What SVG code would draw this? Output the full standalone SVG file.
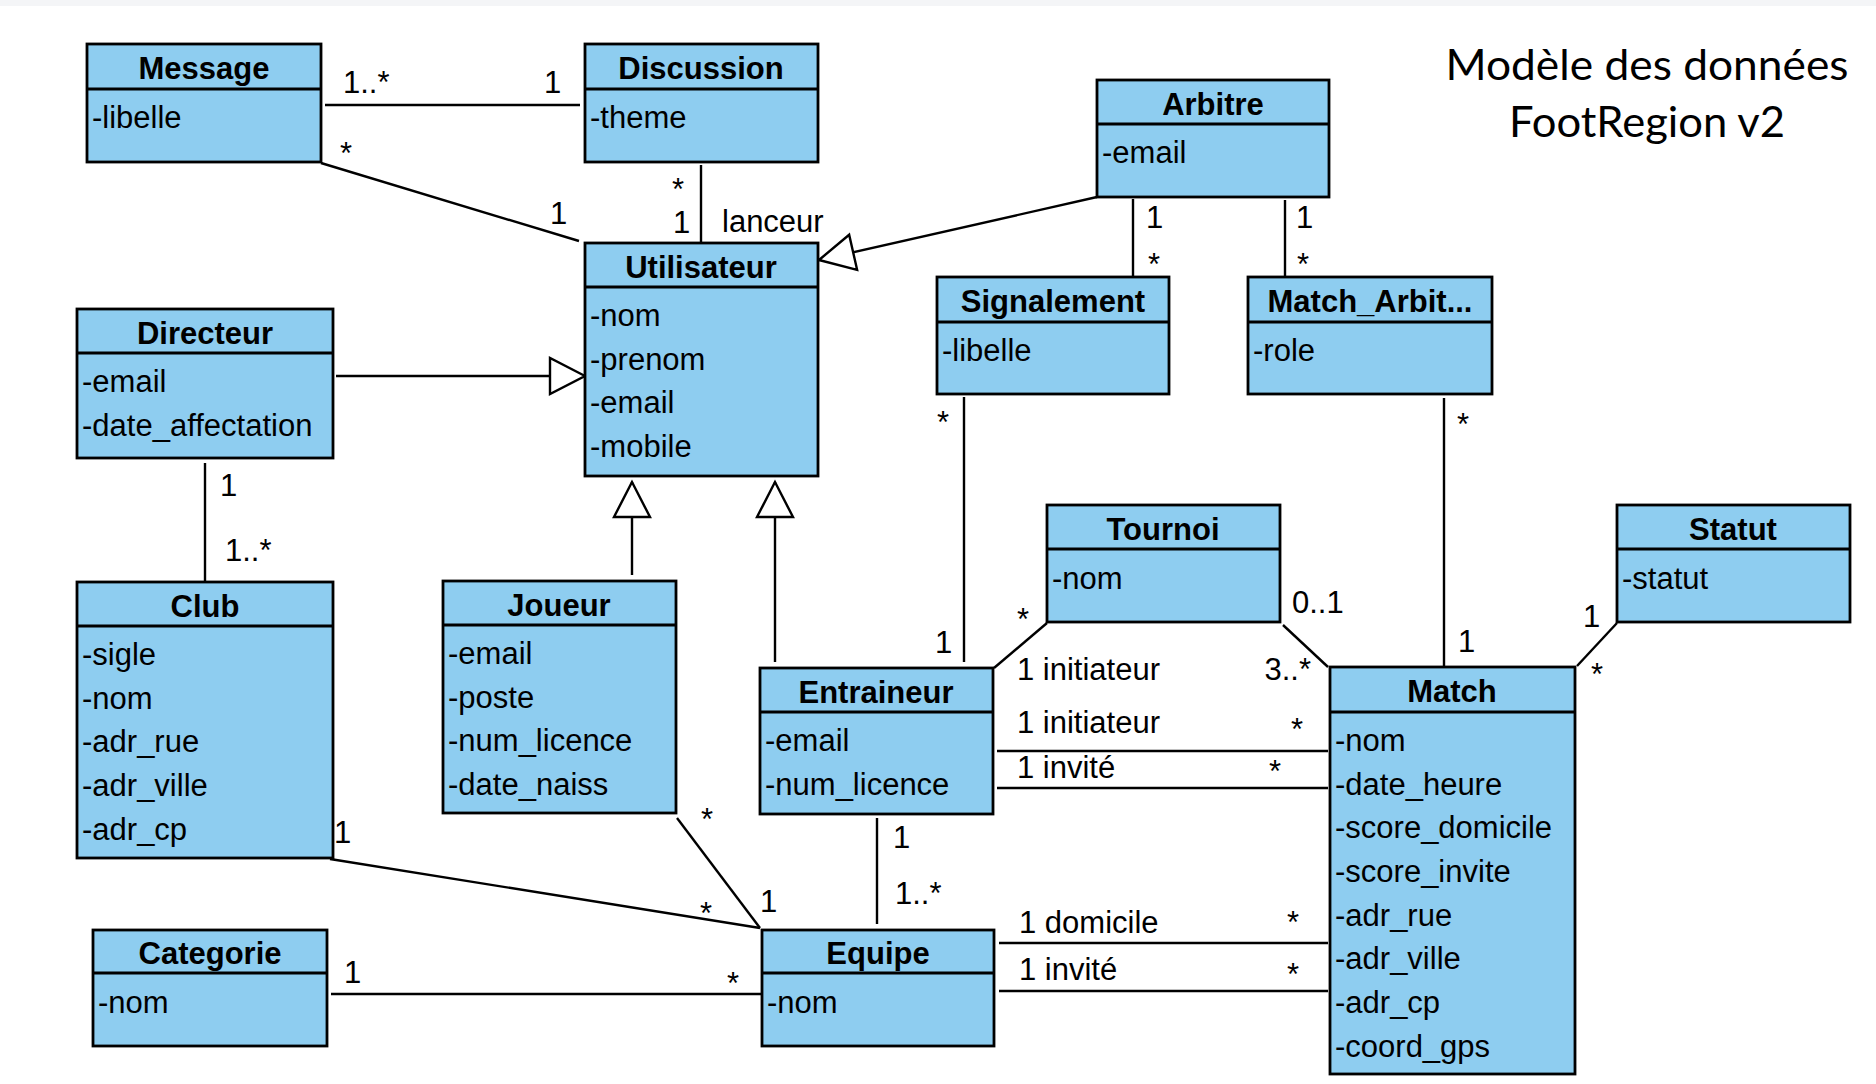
<svg xmlns="http://www.w3.org/2000/svg" width="1876" height="1084" viewBox="0 0 1876 1084">
<style>
.box{fill:#8ecdf0;stroke:#000;stroke-width:2.8}
.div{stroke:#000;stroke-width:2.8}
.t{font-family:"Liberation Sans",Arial,sans-serif;font-size:31px;font-weight:bold;text-anchor:middle;fill:#000}
.a{font-family:"Liberation Sans",Arial,sans-serif;font-size:31px;fill:#000}
.c line,.c path{stroke:#000;stroke-width:2.4;fill:none}
.m{font-family:"Liberation Sans",Arial,sans-serif;font-size:31px;fill:#000}
.h{font-family:Lato,"Open Sans",sans-serif;font-size:43px;fill:#000;text-anchor:middle}
</style>
<defs>
<marker id="gen" markerUnits="userSpaceOnUse" viewBox="-40 -22 44 44" markerWidth="44" markerHeight="44" refX="0" refY="0" orient="auto">
<path d="M0,0 L-35,-18 L-35,18 Z" fill="#fff" stroke="#000" stroke-width="2.4" stroke-linejoin="miter"/>
</marker>
</defs>
<rect x="0" y="0" width="1876" height="1084" fill="#fff"/>
<rect x="0" y="0" width="1876" height="6" fill="#f4f5f7"/>

<text class="h" x="1647" y="80" textLength="403" lengthAdjust="spacingAndGlyphs">Modèle des données</text>
<text class="h" x="1647" y="137" textLength="276" lengthAdjust="spacingAndGlyphs">FootRegion v2</text>

<g id="connectors" class="c">
<line x1="325" y1="105" x2="580" y2="105"/>
<line x1="321" y1="163" x2="579" y2="241"/>
<line x1="701" y1="165" x2="701" y2="243"/>
<line x1="1097" y1="197" x2="819" y2="260" marker-end="url(#gen)"/>
<line x1="336" y1="376" x2="585" y2="376" marker-end="url(#gen)"/>
<line x1="205" y1="463" x2="205" y2="582"/>
<line x1="632" y1="575" x2="632" y2="482" marker-end="url(#gen)"/>
<line x1="775" y1="662" x2="775" y2="482" marker-end="url(#gen)"/>
<line x1="964" y1="397" x2="964" y2="662"/>
<line x1="1444" y1="398" x2="1444" y2="666"/>
<line x1="1133" y1="199" x2="1133" y2="277"/>
<line x1="1285" y1="200" x2="1285" y2="277"/>
<line x1="1047" y1="623" x2="994" y2="668"/>
<line x1="1283" y1="625" x2="1328" y2="667"/>
<line x1="997" y1="751" x2="1328" y2="751"/>
<line x1="997" y1="788" x2="1328" y2="788"/>
<line x1="1617" y1="623" x2="1577" y2="666"/>
<line x1="877" y1="818" x2="877" y2="924"/>
<line x1="677" y1="818" x2="760" y2="928"/>
<line x1="330" y1="859" x2="760" y2="928"/>
<line x1="331" y1="994" x2="762" y2="994"/>
<line x1="999" y1="943" x2="1328" y2="943"/>
<line x1="999" y1="991" x2="1328" y2="991"/>
</g>

<g id="labels">
<text class="m" x="343" y="93">1..*</text>
<text class="m" x="544" y="93">1</text>
<text class="m" x="340" y="164">*</text>
<text class="m" x="550" y="224">1</text>
<text class="m" x="672" y="200">*</text>
<text class="m" x="673" y="233">1</text>
<text class="m" x="722" y="232">lanceur</text>
<text class="m" x="220" y="496">1</text>
<text class="m" x="225" y="561">1..*</text>
<text class="m" x="937" y="433">*</text>
<text class="m" x="935" y="653">1</text>
<text class="m" x="1457" y="435">*</text>
<text class="m" x="1458" y="652">1</text>
<text class="m" x="1146" y="228">1</text>
<text class="m" x="1148" y="275">*</text>
<text class="m" x="1296" y="228">1</text>
<text class="m" x="1297" y="275">*</text>
<text class="m" x="1017" y="630">*</text>
<text class="m" x="1017" y="680">1 initiateur</text>
<text class="m" x="1292" y="613">0..1</text>
<text class="m" x="1311" y="680" text-anchor="end">3..*</text>
<text class="m" x="1017" y="733">1 initiateur</text>
<text class="m" x="1291" y="740">*</text>
<text class="m" x="1017" y="778">1 invité</text>
<text class="m" x="1269" y="782">*</text>
<text class="m" x="1583" y="627">1</text>
<text class="m" x="1591" y="685">*</text>
<text class="m" x="893" y="848">1</text>
<text class="m" x="895" y="904">1..*</text>
<text class="m" x="701" y="830">*</text>
<text class="m" x="760" y="912">1</text>
<text class="m" x="334" y="843">1</text>
<text class="m" x="700" y="924">*</text>
<text class="m" x="344" y="983">1</text>
<text class="m" x="727" y="994">*</text>
<text class="m" x="1019" y="933">1 domicile</text>
<text class="m" x="1287" y="933">*</text>
<text class="m" x="1019" y="980">1 invité</text>
<text class="m" x="1287" y="985">*</text>
</g>

<g id="Message">
<rect class="box" x="87" y="44" width="234" height="118"/>
<line class="div" x1="87" y1="89" x2="321" y2="89"/>
<text class="t" x="204" y="79">Message</text>
<text class="a" x="92" y="128">-libelle</text>
</g>
<g id="Discussion">
<rect class="box" x="585" y="44" width="233" height="118"/>
<line class="div" x1="585" y1="89" x2="818" y2="89"/>
<text class="t" x="701" y="79">Discussion</text>
<text class="a" x="590" y="128">-theme</text>
</g>
<g id="Arbitre">
<rect class="box" x="1097" y="80" width="232" height="117"/>
<line class="div" x1="1097" y1="124" x2="1329" y2="124"/>
<text class="t" x="1213" y="115">Arbitre</text>
<text class="a" x="1102" y="163">-email</text>
</g>
<g id="Utilisateur">
<rect class="box" x="585" y="243" width="233" height="233"/>
<line class="div" x1="585" y1="287" x2="818" y2="287"/>
<text class="t" x="701" y="278">Utilisateur</text>
<text class="a" x="590" y="326">-nom</text>
<text class="a" x="590" y="370">-prenom</text>
<text class="a" x="590" y="413">-email</text>
<text class="a" x="590" y="457">-mobile</text>
</g>
<g id="Directeur">
<rect class="box" x="77" y="309" width="256" height="149"/>
<line class="div" x1="77" y1="353" x2="333" y2="353"/>
<text class="t" x="205" y="344">Directeur</text>
<text class="a" x="82" y="392">-email</text>
<text class="a" x="82" y="436">-date_affectation</text>
</g>
<g id="Signalement">
<rect class="box" x="937" y="277" width="232" height="117"/>
<line class="div" x1="937" y1="322" x2="1169" y2="322"/>
<text class="t" x="1053" y="312">Signalement</text>
<text class="a" x="942" y="361">-libelle</text>
</g>
<g id="Match_Arbitre">
<rect class="box" x="1248" y="277" width="244" height="117"/>
<line class="div" x1="1248" y1="322" x2="1492" y2="322"/>
<text class="t" x="1370" y="312">Match_Arbit...</text>
<text class="a" x="1253" y="361">-role</text>
</g>
<g id="Tournoi">
<rect class="box" x="1047" y="505" width="233" height="117"/>
<line class="div" x1="1047" y1="549" x2="1280" y2="549"/>
<text class="t" x="1163" y="540">Tournoi</text>
<text class="a" x="1052" y="589">-nom</text>
</g>
<g id="Statut">
<rect class="box" x="1617" y="505" width="233" height="117"/>
<line class="div" x1="1617" y1="549" x2="1850" y2="549"/>
<text class="t" x="1733" y="540">Statut</text>
<text class="a" x="1622" y="589">-statut</text>
</g>
<g id="Club">
<rect class="box" x="77" y="582" width="256" height="276"/>
<line class="div" x1="77" y1="626" x2="333" y2="626"/>
<text class="t" x="205" y="617">Club</text>
<text class="a" x="82" y="665">-sigle</text>
<text class="a" x="82" y="709">-nom</text>
<text class="a" x="82" y="752">-adr_rue</text>
<text class="a" x="82" y="796">-adr_ville</text>
<text class="a" x="82" y="840">-adr_cp</text>
</g>
<g id="Joueur">
<rect class="box" x="443" y="581" width="233" height="232"/>
<line class="div" x1="443" y1="625" x2="676" y2="625"/>
<text class="t" x="559" y="616">Joueur</text>
<text class="a" x="448" y="664">-email</text>
<text class="a" x="448" y="708">-poste</text>
<text class="a" x="448" y="751">-num_licence</text>
<text class="a" x="448" y="795">-date_naiss</text>
</g>
<g id="Entraineur">
<rect class="box" x="760" y="668" width="233" height="146"/>
<line class="div" x1="760" y1="712" x2="993" y2="712"/>
<text class="t" x="876" y="703">Entraineur</text>
<text class="a" x="765" y="751">-email</text>
<text class="a" x="765" y="795">-num_licence</text>
</g>
<g id="Match">
<rect class="box" x="1330" y="667" width="245" height="407"/>
<line class="div" x1="1330" y1="712" x2="1575" y2="712"/>
<text class="t" x="1452" y="702">Match</text>
<text class="a" x="1335" y="751">-nom</text>
<text class="a" x="1335" y="795">-date_heure</text>
<text class="a" x="1335" y="838">-score_domicile</text>
<text class="a" x="1335" y="882">-score_invite</text>
<text class="a" x="1335" y="926">-adr_rue</text>
<text class="a" x="1335" y="969">-adr_ville</text>
<text class="a" x="1335" y="1013">-adr_cp</text>
<text class="a" x="1335" y="1057">-coord_gps</text>
</g>
<g id="Categorie">
<rect class="box" x="93" y="930" width="234" height="116"/>
<line class="div" x1="93" y1="973" x2="327" y2="973"/>
<text class="t" x="210" y="964">Categorie</text>
<text class="a" x="98" y="1013">-nom</text>
</g>
<g id="Equipe">
<rect class="box" x="762" y="930" width="232" height="116"/>
<line class="div" x1="762" y1="973" x2="994" y2="973"/>
<text class="t" x="878" y="964">Equipe</text>
<text class="a" x="767" y="1013">-nom</text>
</g>
</svg>
